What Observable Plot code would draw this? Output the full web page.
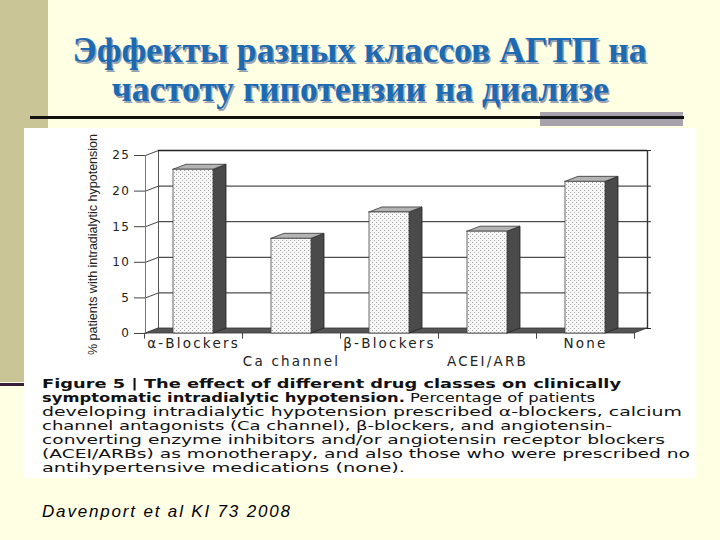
<!DOCTYPE html>
<html><head><meta charset="utf-8">
<script src="https://cdn.jsdelivr.net/npm/d3@7"></script>
<script src="https://cdn.jsdelivr.net/npm/@observablehq/plot@0.6"></script>
<style>
html,body{margin:0;padding:0;}
body{width:720px;height:540px;background:#FFFFE4;position:relative;overflow:hidden;}
.abs{position:absolute;}
#title{left:0;top:31px;width:720px;text-align:center;font-family:"Liberation Serif",serif;font-weight:bold;font-size:35px;line-height:39px;color:#1C6AB4;text-shadow:1.5px 1.5px 0 #9aa3ad;white-space:nowrap;}
#title div{height:39px;}
#title span{display:inline-block;transform-origin:50% 50%;}
</style></head><body>
<div class="abs" style="left:0;top:0;width:48px;height:382px;background:#C9C597"></div>
<div class="abs" style="left:0;top:383px;width:24px;height:3px;background:#3A1F3A"></div>
<div class="abs" style="left:540px;top:112px;width:143px;height:14px;background:#A8A2AC"></div>
<div class="abs" style="left:30px;top:116px;width:654px;height:3px;background:#111"></div>
<div class="abs" style="left:24px;top:128px;width:672px;height:350px;background:#FFFFFF"></div>
<div id="title" class="abs"></div>
<div id="chart" class="abs" style="left:0;top:130px;"></div>
<svg id="overlay" class="abs" style="left:0;top:0;pointer-events:none" width="720" height="540"></svg>
<script>
const categories = ["α-Blockers", "Ca channel", "β-Blockers", "ACEI/ARB", "None"];
const values = [23.0, 13.3, 17.0, 14.3, 21.3];
const yTicks = [0, 5, 10, 15, 20, 25];
const yLabel = "% patients with intradialytic hypotension";
const titleLines = ["Эффекты разных классов АГТП на", "частоту гипотензии на диализе"];
const captionLines = [
  [["Figure 5 | The effect of different drug classes on clinically", true]],
  [["symptomatic intradialytic hypotension.", true], [" Percentage of patients", false]],
  [["developing intradialytic hypotension prescribed α-blockers, calcium", false]],
  [["channel antagonists (Ca channel), β-blockers, and angiotensin-", false]],
  [["converting enzyme inhibitors and/or angiotensin receptor blockers", false]],
  [["(ACEI/ARBs) as monotherapy, and also those who were prescribed no", false]],
  [["antihypertensive medications (none).", false]]
];
const citation = "Davenport et al KI 73 2008";

// ---- chart geometry (style constants) ----
const W = 720, H = 245, mL = 145, mR = 86, mT = 25, mB = 42;
const X0 = -0.49, X1 = 4.5, YMAX = 25;
const ux = (W - mL - mR) / (X1 - X0);
const uy = (H - mT - mB) / YMAX;
const dxu = 13 / ux, dyu = 5 / uy, hw = 20 / ux;

const bars = categories.map((c, i) => ({i, c, v: values[i]}));
const sideFaces = bars.flatMap(b => [
  {i: b.i, x: b.i + hw, y1: 0, y2: b.v},
  {i: b.i, x: b.i + hw + dxu, y1: dyu, y2: b.v + dyu}
]);
const topFaces = bars.flatMap(b => [
  {i: b.i, x: b.i - hw, y1: b.v, y2: b.v},
  {i: b.i, x: b.i - hw + dxu, y1: b.v, y2: b.v + dyu},
  {i: b.i, x: b.i + hw, y1: b.v, y2: b.v + dyu},
  {i: b.i, x: b.i + hw + dxu, y1: b.v + dyu, y2: b.v + dyu}
]);
const floor = [
  {x: X0, y1: 0, y2: 0},
  {x: X0 + dxu, y1: 0, y2: dyu},
  {x: X1, y1: 0, y2: dyu},
  {x: X1 + dxu, y1: dyu, y2: dyu}
];
const seps = d3.range(categories.length + 1).map(k => k - 0.5);

const chart = Plot.plot({
  width: W, height: H,
  marginLeft: mL, marginRight: mR, marginTop: mT, marginBottom: mB,
  x: {type: "linear", domain: [X0, X1], axis: null},
  y: {domain: [0, YMAX], axis: null},
  style: {background: "none", color: "#222", fontFamily: "DejaVu Sans", overflow: "visible"},
  marks: [
    Plot.ruleY(yTicks, {y: d => d + dyu, x1: X0 + dxu, x2: X1 + dxu + 0.04, stroke: "#222", strokeWidth: 1}),
    Plot.link(yTicks, {x1: X0, y1: d => d, x2: X0 + dxu, y2: d => d + dyu, stroke: "#444", strokeWidth: 1}),
    Plot.ruleX([X0 + dxu], {y1: dyu, y2: YMAX + dyu, stroke: "#555", strokeWidth: 1}),
    Plot.ruleX([X1 + dxu], {y1: dyu, y2: YMAX + dyu, stroke: "#333", strokeWidth: 1.4}),
    Plot.ruleY([YMAX + dyu], {x1: X0 + dxu, x2: X1 + dxu, stroke: "#222", strokeWidth: 1.5}),
    Plot.area(floor, {x1: "x", y1: "y1", y2: "y2", fill: "#555", stroke: "#333", strokeWidth: 0.8}),
    Plot.ruleX([X0], {y1: 0, y2: YMAX, stroke: "#777", strokeWidth: 1}),
    Plot.ruleX(seps, {y1: 0, y2: -0.8, stroke: "#444", strokeWidth: 1}),
    Plot.area(sideFaces, {x1: "x", y1: "y1", y2: "y2", z: "i", fill: "#4a4a4a", stroke: "#222", strokeWidth: 0.8}),
    Plot.area(topFaces, {x1: "x", y1: "y1", y2: "y2", z: "i", fill: "#b3b3b3", stroke: "#333", strokeWidth: 0.8}),
    Plot.rectY(bars, {x1: d => d.i - hw, x2: d => d.i + hw, y1: 0, y2: "v", fill: "url(#dots)", stroke: "#444", strokeWidth: 0.8}),
    Plot.axisY({ticks: yTicks, anchor: "left", tickSize: 11, tickPadding: 4, label: null, fontSize: 12, stroke: "#444"}),
    Plot.axisX({ticks: [0, 2, 4], tickFormat: i => categories[i], tickSize: 0, tickPadding: 5, label: null, fontSize: 13.5}),
    Plot.axisX({ticks: [1, 3], tickFormat: i => categories[i], tickSize: 0, tickPadding: 23, label: null, fontSize: 13.5}),
    Plot.text([yLabel], {frameAnchor: "left", dx: -53, rotate: -90, textAnchor: "middle", lineAnchor: "middle", text: d => d, fontSize: 12.5, fontFamily: "Liberation Sans Narrow, Liberation Sans, sans-serif", fill: "#222", ariaLabel: "ylabel"})
  ]
});

const defs = d3.select(chart).insert("defs", ":first-child");
const pat = defs.append("pattern").attr("id", "dots").attr("patternUnits", "userSpaceOnUse").attr("width", 4).attr("height", 4);
pat.append("rect").attr("width", 4).attr("height", 4).attr("fill", "#f7f7f7");
pat.append("rect").attr("x", 0).attr("y", 0).attr("width", 1).attr("height", 1).attr("fill", "#9a9a9a");
pat.append("rect").attr("x", 2).attr("y", 2).attr("width", 1).attr("height", 1).attr("fill", "#b0b0b0");

d3.select(chart).selectAll('g[aria-label="y-axis tick label"] text').style("letter-spacing", "1.5px");
d3.select(chart).selectAll('g[aria-label="x-axis tick label"] text').style("letter-spacing", "2.2px");
d3.select(chart).select('g[aria-label="ylabel"] text').attr("textLength", 182).attr("lengthAdjust", "spacingAndGlyphs");
document.getElementById("chart").appendChild(chart);

// ---- title (HTML, scaled to the reference widths) ----
const titleLen = [574, 497];
const titleDiv = d3.select("#title");
titleLines.forEach((t, k) => {
  const span = titleDiv.append("div").append("span").text(t);
  const w = span.node().getBoundingClientRect().width;
  span.style("transform", `scaleX(${titleLen[k] / w})`);
});

// ---- caption & citation ----
const ov = d3.select("#overlay");
const capY = [388, 402, 416, 430, 444, 458, 472];
const capLen = [579, 553, 640, 570, 623, 648, 363];
captionLines.forEach((parts, k) => {
  const t = ov.append("text").attr("x", 42).attr("y", capY[k]).attr("font-family", "DejaVu Sans, sans-serif")
    .attr("font-size", 11.8).attr("fill", "#111").attr("textLength", capLen[k]).attr("lengthAdjust", "spacingAndGlyphs");
  parts.forEach(([s, b]) => t.append("tspan").attr("font-weight", b ? "bold" : "normal").text(s));
});
ov.append("text").attr("x", 42).attr("y", 517).attr("font-family", "Liberation Sans, Arial, sans-serif")
  .attr("font-style", "italic").attr("font-size", 17).attr("fill", "#000")
  .attr("textLength", 248).attr("lengthAdjust", "spacing").text(citation);
</script>
</body></html>
